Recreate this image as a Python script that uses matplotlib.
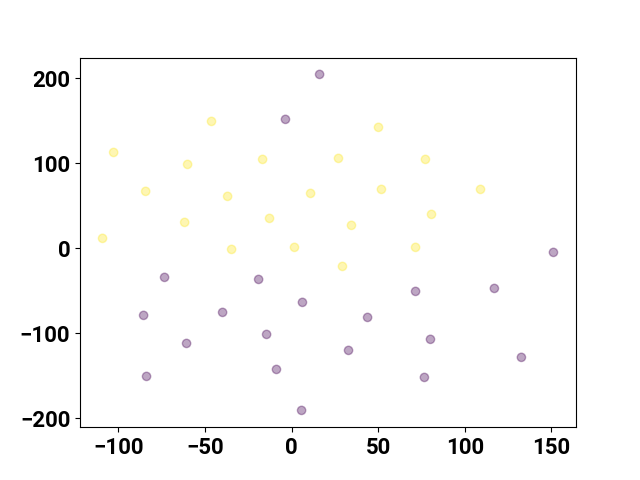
import numpy as np
import matplotlib.pyplot as plt

plt.rcParams['font.family'] = ['Roboto', 'DejaVu Sans']
plt.rcParams['font.weight'] = 'bold'

# class 0 (purple)
x0 = [16.2, -3.5, -73.3, -19.0, 151.2, -85.4, -39.8, 6.3, 43.9, 71.6,
      117.1, -60.6, -14.4, 32.9, 80.2, 132.7, -83.7, -8.7, 76.7, 5.8]
y0 = [204.7, 151.8, -34.1, -36.5, -4.7, -78.8, -75.3, -63.5, -81.2, -50.6,
      -47.1, -111.8, -101.2, -120.0, -107.0, -128.2, -150.6, -142.4, -151.8, -190.6]
# class 1 (yellow)
x1 = [-102.7, -46.2, 50.2, -60.0, -16.7, 27.1, 77.3, -84.2, -36.9, 11.0,
      51.9, 109.1, -61.7, -12.7, 34.6, 80.8, -109.1, -34.6, 1.7, 71.6, 29.4]
y1 = [112.9, 149.4, 142.4, 98.8, 104.7, 105.9, 104.7, 67.1, 61.2, 64.7,
      69.4, 69.4, 30.6, 35.3, 27.1, 40.0, 11.8, -1.2, 1.2, 1.2, -21.2]

xs = np.array(x0 + x1)
ys = np.array(y0 + y1)
labels = np.array([0] * len(x0) + [1] * len(x1))

fig, ax = plt.subplots(figsize=(6.4, 4.8), dpi=100)
ax.scatter(xs, ys, c=labels, cmap='viridis', alpha=0.35)
ax.tick_params(labelsize=16)
for t in ax.get_xticklabels() + ax.get_yticklabels():
    t.set_fontweight('bold')
fig.savefig('out.png')
